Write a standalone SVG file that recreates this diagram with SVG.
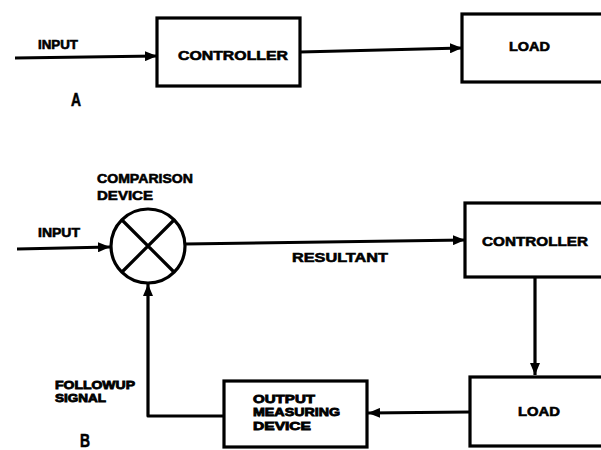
<svg xmlns="http://www.w3.org/2000/svg" width="601" height="450" viewBox="0 0 601 450">
<defs>
<style>
.box{fill:#fff;stroke:#000;stroke-width:3.2}
.ln{fill:none;stroke:#000;stroke-width:3.2;stroke-linejoin:round}
.t{font-family:"Liberation Sans",Arial,sans-serif;font-weight:bold;font-size:13px;fill:#000;stroke:#000;stroke-width:0.6}
.s{font-size:11.2px;stroke-width:0.8}
.big{font-family:"Liberation Sans",Arial,sans-serif;font-weight:bold;font-size:19px;fill:#000;stroke:#000;stroke-width:0.6}
</style>
<marker id="ah" viewBox="0 0 12 10" refX="12" refY="5" markerWidth="12" markerHeight="10" markerUnits="userSpaceOnUse" orient="auto">
<path d="M0,0 L12,5 L0,10 Z" fill="#000"/>
</marker>
</defs>
<rect width="601" height="450" fill="#fff"/>
<g id="connectors">
<path class="ln" d="M15,58 L157,56" marker-end="url(#ah)"/>
<path class="ln" d="M300,52 L462,48" marker-end="url(#ah)"/>
<path class="ln" d="M17,249 L110,247" marker-end="url(#ah)"/>
<path class="ln" d="M185,244 L465,240" marker-end="url(#ah)"/>
<path class="ln" d="M535,277 L535,375" marker-end="url(#ah)"/>
<path class="ln" d="M470,412 L368,413" marker-end="url(#ah)"/>
<path class="ln" d="M224,416 L148,416 L148,284" marker-end="url(#ah)"/>
</g>
<g id="labels">
<text class="t" x="38" y="49" textLength="40" lengthAdjust="spacingAndGlyphs">INPUT</text>
<text class="big" x="71" y="106" textLength="10" lengthAdjust="spacingAndGlyphs">A</text>
<text class="t" x="38" y="237" textLength="42" lengthAdjust="spacingAndGlyphs">INPUT</text>
<text class="t" x="292" y="262" textLength="96" lengthAdjust="spacingAndGlyphs">RESULTANT</text>
<text class="t s" x="55" y="389" textLength="80" lengthAdjust="spacingAndGlyphs">FOLLOWUP</text>
<text class="t s" x="55" y="402" textLength="51" lengthAdjust="spacingAndGlyphs">SIGNAL</text>
<text class="big" x="80" y="447" textLength="10" lengthAdjust="spacingAndGlyphs">B</text>
</g>
<g id="controller-a">
<rect class="box" x="157" y="18" width="143" height="68"/>
<text class="t" x="178" y="60" textLength="110" lengthAdjust="spacingAndGlyphs">CONTROLLER</text>
</g>
<g id="load-a">
<rect class="box" x="462" y="14" width="145" height="68"/>
<text class="t" x="509" y="51" textLength="41" lengthAdjust="spacingAndGlyphs">LOAD</text>
</g>
<g id="comparison-device">
<circle class="box" cx="148" cy="246" r="37"/>
<path class="ln" d="M122,220 L174,272 M174,220 L122,272"/>
<text class="t" x="97" y="183" textLength="96" lengthAdjust="spacingAndGlyphs">COMPARISON</text>
<text class="t" x="97" y="200" textLength="56" lengthAdjust="spacingAndGlyphs">DEVICE</text>
</g>
<g id="controller-b">
<rect class="box" x="465" y="203" width="142" height="74"/>
<text class="t" x="482" y="246" textLength="106" lengthAdjust="spacingAndGlyphs">CONTROLLER</text>
</g>
<g id="load-b">
<rect class="box" x="470" y="377" width="137" height="69"/>
<text class="t" x="518" y="416" textLength="42" lengthAdjust="spacingAndGlyphs">LOAD</text>
</g>
<g id="output-measuring-device">
<rect class="box" x="224" y="381" width="143" height="66"/>
<text class="t s" x="253" y="403" textLength="62" lengthAdjust="spacingAndGlyphs">OUTPUT</text>
<text class="t s" x="253" y="416" textLength="87" lengthAdjust="spacingAndGlyphs">MEASURING</text>
<text class="t s" x="253" y="430" textLength="58" lengthAdjust="spacingAndGlyphs">DEVICE</text>
</g>
</svg>
